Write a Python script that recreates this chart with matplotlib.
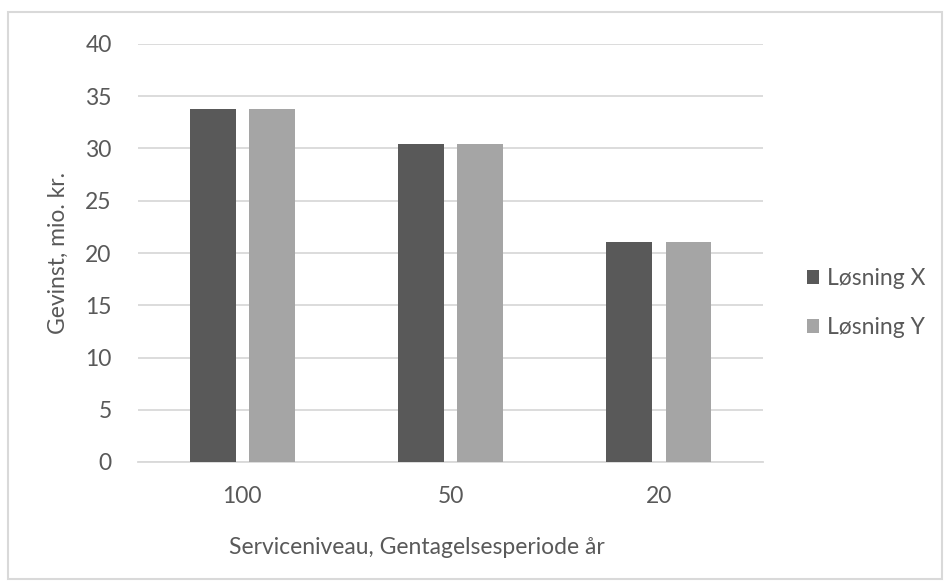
import matplotlib
matplotlib.use("Agg")
import matplotlib.pyplot as plt
import numpy as np
from matplotlib.patches import Rectangle

categories = ["100", "50", "20"]
series_names = ["Løsning X", "Løsning Y"]
losning_x = [33.8, 30.4, 21.1]
losning_y = [33.8, 30.4, 21.1]
colors = ["#595959", "#a5a5a5"]

plt.rcParams['font.family'] = ['Lato', 'DejaVu Sans']
txt = "#595959"
fs = 16.5

fig = plt.figure(figsize=(9.5, 5.81), dpi=100)
fig.patches.append(Rectangle((8/950, 0.003), 1 - 16/950, 1 - 12/581 - 0.003,
                             transform=fig.transFigure, fill=False,
                             edgecolor="#d9d9d9", linewidth=1.5))
ax = fig.add_axes([138/950, 1 - 462/581, (763-138)/950, (462-44)/581])

x = np.arange(len(categories))
w = 0.22
off = 0.142
ax.bar(x - off, losning_x, w, color=colors[0], label=series_names[0], zorder=3)
ax.bar(x + off, losning_y, w, color=colors[1], label=series_names[1], zorder=3)

ax.set_xlim(-0.5, 2.5)
ax.set_ylim(0, 40)
ax.set_yticks(range(0, 41, 5))
ax.grid(axis='y', color="#d9d9d9", linewidth=1.3, zorder=0)
ax.set_xticks(x)
ax.set_xticklabels(categories)
for s in ["top", "right", "left"]:
    ax.spines[s].set_visible(False)
ax.spines["bottom"].set_color("#d9d9d9")
ax.spines["bottom"].set_linewidth(1.3)
ax.tick_params(axis='both', length=0, labelsize=fs, colors=txt)
ax.tick_params(axis='x', pad=17)
ax.tick_params(axis='y', pad=19)
ax.set_xlabel("Serviceniveau, Gentagelsesperiode år", fontsize=fs, color=txt)
ax.xaxis.set_label_coords(0.446, -0.18)
ax.set_ylabel("Gevinst, mio. kr.", fontsize=fs, color=txt, labelpad=12)

ax.legend(loc="center left", bbox_to_anchor=(1.055, 0.38), frameon=False,
          fontsize=fs, labelcolor=txt, handlelength=0.55, handleheight=0.55,
          handletextpad=0.35, labelspacing=1.2, borderaxespad=0)

fig.savefig("out.png", dpi=100)
